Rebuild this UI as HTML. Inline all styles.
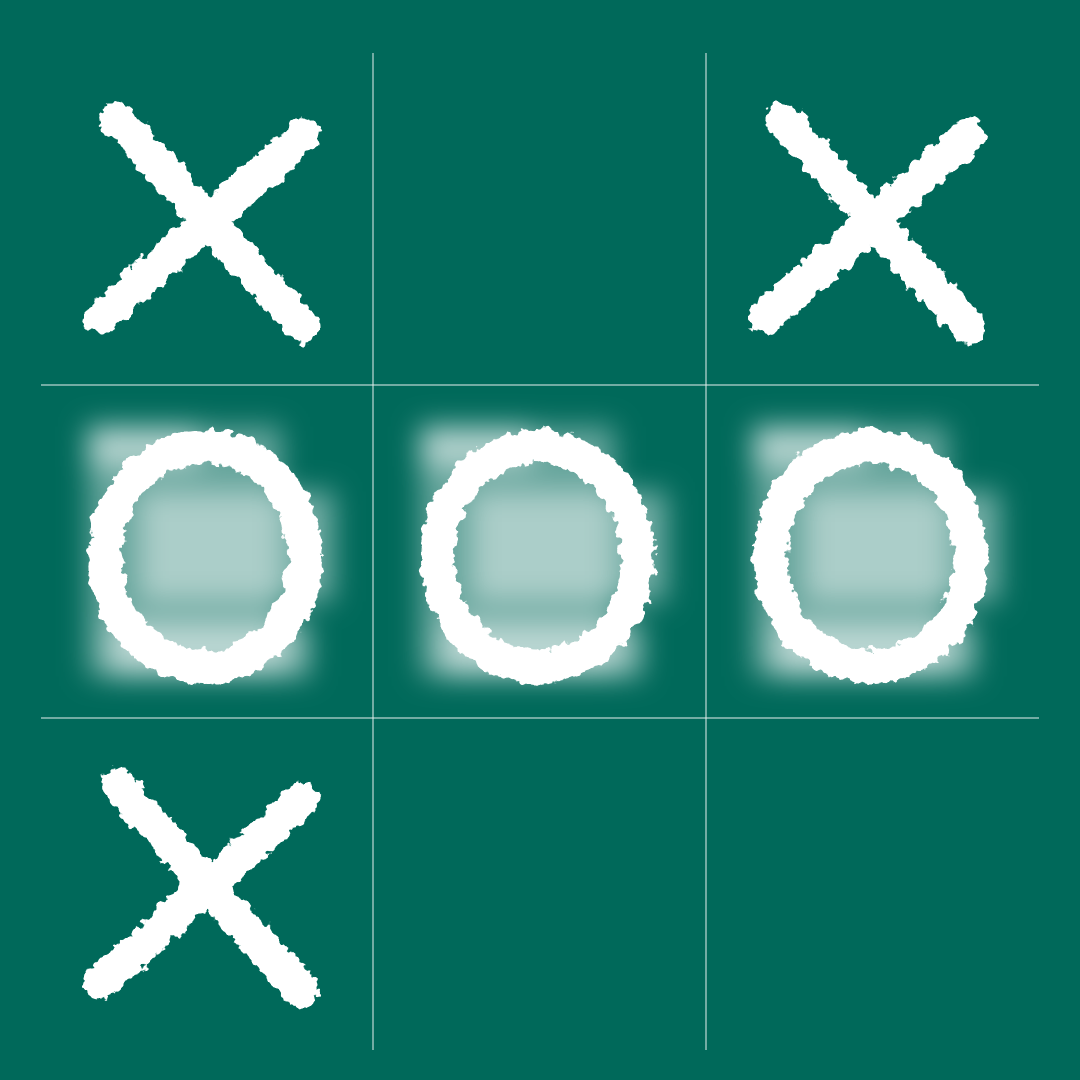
<!DOCTYPE html>
<html><head><meta charset="utf-8"><style>
html,body{margin:0;padding:0;background:#00695A;}
svg{display:block;}
</style></head><body>
<svg id="board" width="1080" height="1080" viewBox="0 0 1080 1080" xmlns="http://www.w3.org/2000/svg">
<defs>
  <filter id="chalk" x="-20%" y="-20%" width="140%" height="140%">
    <feTurbulence type="fractalNoise" baseFrequency="0.09" numOctaves="3" seed="4" result="n"/>
    <feDisplacementMap in="SourceGraphic" in2="n" scale="14" xChannelSelector="R" yChannelSelector="G"/>
  </filter>
  <filter id="smudge" x="-30%" y="-30%" width="160%" height="160%">
    <feGaussianBlur stdDeviation="14"/>
  </filter>
</defs>
<rect x="0" y="0" width="1080" height="1080" fill="#00695A"/>
<g id="marks"></g>
<g id="grid"></g>
</svg>
<script>
const cells = ['X','','X','O','O','O','X','',''];
const colEdges = [41, 373, 706, 1039];
const rowEdges = [53, 385, 718, 1050];
const NS = 'http://www.w3.org/2000/svg';
const grid = document.getElementById('grid');
const marks = document.getElementById('marks');
function mk(tag, attrs, parent){const e=document.createElementNS(NS,tag);for(const k in attrs)e.setAttribute(k,attrs[k]);parent.appendChild(e);return e;}
[1,2].forEach(i=>{
  const v=mk('line',{x1:colEdges[i],y1:rowEdges[0],x2:colEdges[i],y2:rowEdges[3],stroke:'#e6f0ed','stroke-width':1},grid);
  
  
  const h=mk('line',{x1:colEdges[0],y1:rowEdges[i],x2:colEdges[3],y2:rowEdges[i],stroke:'#e6f0ed','stroke-width':1},grid);
  
  
});
cells.forEach((c,i)=>{
  const r=Math.floor(i/3), col=i%3;
  const x0=colEdges[col], y0=rowEdges[r];
  const w=colEdges[col+1]-colEdges[col], h=rowEdges[r+1]-rowEdges[r];
  const cx=x0+w*0.5-8, cy=y0+h*0.5;
  const g=mk('g',{},marks);
  
  
  mk('rect',{x:x0,y:y0,width:w,height:h,fill:'transparent'},g);
  if(c==='X'){
    const s=mk('g',{filter:'url(#chalk)',stroke:'#fff','stroke-width':34,'stroke-linecap':'round',fill:'none'},g);
    
    
    mk('line',{x1:cx-82,y1:cy-100,x2:cx+104,y2:cy+108},s);
    mk('line',{x1:cx+104,y1:cy-84,x2:cx-98,y2:cy+98},s);
  } else if(c==='O'){
    const sm=mk('g',{filter:'url(#smudge)',fill:'#fff'},g);
    
    
    mk('rect',{x:cx-112,y:cy-125,width:195,height:250,opacity:0.4},sm);
    mk('rect',{x:cx-60,y:cy-60,width:195,height:110,opacity:0.45},sm);
    mk('rect',{x:cx-90,y:cy+70,width:200,height:55,opacity:0.55},sm);
    mk('rect',{x:cx-110,y:cy-125,width:110,height:40,opacity:0.5},sm);
    const o=mk('ellipse',{cx:cx+6,cy:cy+5,rx:100,ry:110,fill:'none',stroke:'#fff','stroke-width':34,filter:'url(#chalk)'},g);
    
    
  }
});
</script>
</body></html>
